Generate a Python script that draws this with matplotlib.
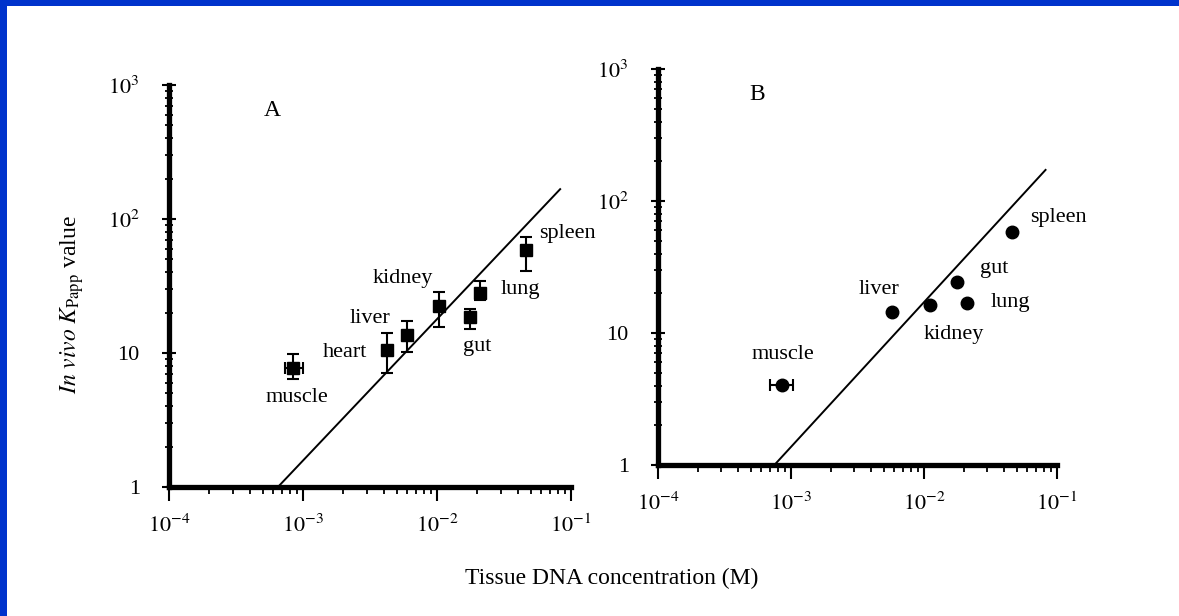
import matplotlib
matplotlib.use("Agg")
import matplotlib.pyplot as plt
from matplotlib.patches import Rectangle
from matplotlib.ticker import LogLocator, FixedLocator, FixedFormatter, NullFormatter
import numpy as np

plt.rcParams["font.family"] = ["Liberation Serif", "DejaVu Serif"]
plt.rcParams["mathtext.fontset"] = "stix"

# tissues, panel A (in vivo K_Papp, with error bars)
tissues_a = ["muscle", "heart", "liver", "kidney", "gut", "lung", "spleen"]
dna_a = [8.4e-4, 4.2e-3, 6.0e-3, 1.04e-2, 1.76e-2, 2.09e-2, 4.6e-2]
kp_a = [7.7, 10.5, 13.6, 22.4, 18.6, 28.0, 58.7]
kp_a_lo = [6.4, 7.1, 10.2, 15.6, 15.1, 24.9, 40.9]
kp_a_hi = [9.8, 14.1, 17.3, 28.5, 21.3, 34.5, 73.4]
dna_a_lo = [7.3e-4, 4.2e-3, 6.0e-3, 1.04e-2, 1.76e-2, 2.09e-2, 4.6e-2]
dna_a_hi = [1.0e-3, 4.2e-3, 6.0e-3, 1.04e-2, 1.76e-2, 2.09e-2, 4.6e-2]
line_a_x = [6.5e-4, 8.3e-2]
line_a_y = [1.0, 167.0]

# panel B
tissues_b = ["muscle", "liver", "kidney", "gut", "lung", "spleen"]
dna_b = [8.5e-4, 5.75e-3, 1.11e-2, 1.77e-2, 2.1e-2, 4.56e-2]
kp_b = [4.04, 14.4, 16.3, 24.3, 16.9, 58.2]
dna_b_lo = [6.9e-4, 5.75e-3, 1.11e-2, 1.77e-2, 2.1e-2, 4.56e-2]
dna_b_hi = [1.03e-3, 5.75e-3, 1.11e-2, 1.77e-2, 2.1e-2, 4.56e-2]
line_b_x = [7.5e-4, 8.2e-2]
line_b_y = [1.0, 172.0]

xticks = [1e-4, 1e-3, 1e-2, 1e-1]
xtick_labels = [r"$10^{-4}$", r"$10^{-3}$", r"$10^{-2}$", r"$10^{-1}$"]
yticks = [1, 10, 100, 1000]
ytick_labels = ["1", "10", r"$10^{2}$", r"$10^{3}$"]

# label offsets (pixels) from each point
offs_a = [(4, -29), (-42, -2), (-37, 17), (-36, 28), (7, -30), (40, 4), (42, 17)]
offs_b = [(1, 30), (-13, 23), (24, -30), (37, 14), (44, 0), (47, 15)]

W, H = 1179, 616
fig = plt.figure(figsize=(W / 100, H / 100), dpi=100)
fig.patch.set_facecolor("white")


def style_axes(ax):
    ax.set_xscale("log")
    ax.set_yscale("log")
    ax.set_xlim(1e-4, 1e-1)
    ax.set_ylim(1, 1e3)
    for s in ["top", "right"]:
        ax.spines[s].set_visible(False)
    for s in ["left", "bottom"]:
        ax.spines[s].set_linewidth(3.8)
    ax.xaxis.set_major_locator(FixedLocator(xticks))
    ax.xaxis.set_major_formatter(FixedFormatter(xtick_labels))
    ax.yaxis.set_major_locator(FixedLocator(yticks))
    ax.yaxis.set_major_formatter(FixedFormatter(ytick_labels))
    ax.xaxis.set_minor_locator(LogLocator(base=10, subs=np.arange(2, 10)))
    ax.yaxis.set_minor_locator(LogLocator(base=10, subs=np.arange(2, 10)))
    ax.xaxis.set_minor_formatter(NullFormatter())
    ax.yaxis.set_minor_formatter(NullFormatter())
    ax.tick_params(axis="x", which="major", direction="out", length=10, width=1.5,
                   pad=10, labelsize=16)
    ax.tick_params(axis="x", which="minor", direction="out", length=5, width=1.3)
    ax.tick_params(axis="y", which="major", direction="inout", length=10, width=1.5,
                   pad=16, labelsize=16)
    ax.tick_params(axis="y", which="minor", direction="inout", length=6, width=1.3)
    ax.set_facecolor("none")


axA = fig.add_axes([169 / W, 1 - 487 / H, 402 / W, 402 / H])
axB = fig.add_axes([658 / W, 1 - 465 / H, 399 / W, 396 / H])
style_axes(axA)
style_axes(axB)

# panel A
axA.plot(line_a_x, line_a_y, color="black", lw=1.4)
x = np.array(dna_a)
y = np.array(kp_a)
yerr = [y - np.array(kp_a_lo), np.array(kp_a_hi) - y]
xerr = [x - np.array(dna_a_lo), np.array(dna_a_hi) - x]
axA.errorbar(x, y, yerr=yerr, xerr=xerr, fmt="s", color="black", ms=8.5,
             elinewidth=1.5, capsize=4, capthick=1.5)
for name, xi, yi, (dx, dy) in zip(tissues_a, dna_a, kp_a, offs_a):
    axA.annotate(name, (xi, yi), xytext=(dx, dy), textcoords="offset pixels",
                 ha="center", va="center", fontsize=16)

# panel B
axB.plot(line_b_x, line_b_y, color="black", lw=1.4)
x = np.array(dna_b)
y = np.array(kp_b)
has_err = np.array(dna_b_hi) > x
xerr = [(x - np.array(dna_b_lo))[has_err], (np.array(dna_b_hi) - x)[has_err]]
axB.errorbar(x[has_err], y[has_err], xerr=xerr, fmt="none", ecolor="black",
             elinewidth=1.5, capsize=4, capthick=1.5)
axB.plot(x, y, "o", color="black", ms=9)
for name, xi, yi, (dx, dy) in zip(tissues_b, dna_b, kp_b, offs_b):
    axB.annotate(name, (xi, yi), xytext=(dx, dy), textcoords="offset pixels",
                 ha="center", va="center", fontsize=16)

fig.text(272 / W, 1 - 110 / H, "A", fontsize=17, ha="center", va="center")
fig.text(757 / W, 1 - 95 / H, "B", fontsize=17, ha="center", va="center")
fig.text(612 / W, 1 - 578 / H, "Tissue DNA concentration (M)", fontsize=17,
         ha="center", va="center")
fig.text(72 / W, 1 - 305 / H, r"$\mathit{In\ vivo}\ K_{\mathrm{Papp}}$ value",
         fontsize=17, rotation=90, ha="center", va="center")

# blue slide frame
fig.add_artist(Rectangle((0, 0), 7 / W, 1, transform=fig.transFigure,
                         color="#0033cc", lw=0))
fig.add_artist(Rectangle((0, 1 - 6 / H), 1, 6 / H, transform=fig.transFigure,
                         color="#0033cc", lw=0))

fig.savefig("out.png", dpi=100)
